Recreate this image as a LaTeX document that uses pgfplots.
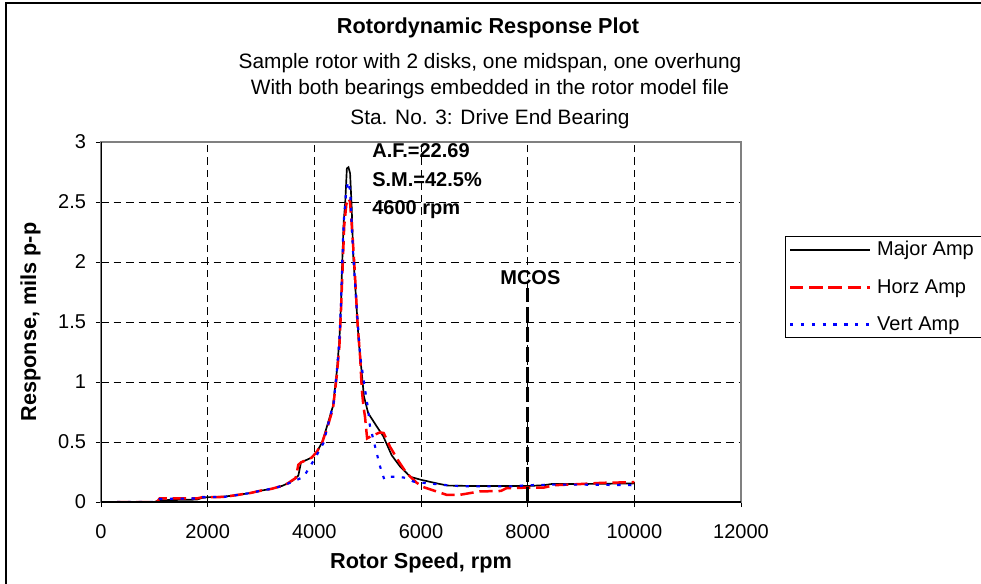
\documentclass[border=0pt]{standalone}
\usepackage{fontspec}
\setmainfont{Liberation Sans}
\usepackage{pgfplots}
\pgfplotsset{compat=1.18}

\begin{document}
\begin{tikzpicture}
% page: 981 x 584 px at 0.6pt per px, origin top left
\useasboundingbox (0,0) rectangle (588.6pt,-350.4pt);
\draw[black, line width=0.9pt] (3.6pt,-1.8pt) rectangle (700pt,-400pt);

\node[font=\fontsize{13}{15}\bfseries] at (292.8pt,-16.8pt) {Rotordynamic Response Plot};
\node[font=\fontsize{12.5}{15}\selectfont] at (294pt,-37.8pt) {Sample rotor with 2 disks, one midspan, one overhung};
\node[font=\fontsize{12.5}{15}\selectfont] at (294pt,-53.4pt) {With both bearings embedded in the rotor model file};
\node[font=\fontsize{12.5}{15}\selectfont] at (294pt,-71.4pt) {Sta. No. 3: Drive End Bearing};

\begin{axis}[
  scale only axis,
  width=384pt, height=216pt,
  at={(60.6pt,-301.2pt)}, anchor=south west,
  xmin=0, xmax=12000, ymin=0, ymax=3,
  xtick={0,2000,...,12000},
  ytick={0,0.5,...,3},
  scaled x ticks=false,
  /pgf/number format/set thousands separator={},
  /pgf/number format/assume math mode=true,
  tick pos=left,
  tick align=outside,
  major tick length=3pt,
  tick style={black, line width=0.6pt},
  ticklabel style={font=\fontsize{12}{14}\selectfont},
  xticklabel style={yshift=-7pt},
  yticklabel style={xshift=-2.5pt},
  grid=major,
  grid style={black, line width=0.5pt, dash pattern=on 4.5pt off 3pt},
  axis line style={draw=gray, line width=1.2pt},
  xlabel={Rotor Speed, rpm},
  ylabel={Response, mils p-p},
  every axis x label/.style={at={(axis description cs:0.5,-0.169)}, anchor=center, font=\fontsize{13}{15}\bfseries},
  every axis y label/.style={at={(axis description cs:-0.11,0.5)}, anchor=center, rotate=90, font=\fontsize{13}{15}\bfseries},
  legend style={at={(1.06875,0.7389)}, anchor=north west, draw=black, line width=0.6pt,
    font=\fontsize{12}{14}\selectfont, inner xsep=2pt, inner ysep=1pt, row sep=8.5pt,
    /tikz/every odd column/.append style={column sep=1.5pt}},
  legend cell align=left,
  legend image code/.code={\draw[#1] (0pt,0pt) -- (48pt,0pt);},
]
% Major Amp
\addplot[black, line width=1pt] coordinates {
(300,0) (1000,0) (1100,0.015) (1800,0.02) (1900,0.035) (2000,0.04) (2300,0.045)
(2500,0.055) (2800,0.075) (3000,0.095) (3200,0.11) (3400,0.135) (3500,0.155)
(3600,0.18) (3700,0.22) (3750,0.33) (3850,0.35) (3950,0.37) (4050,0.42)
(4150,0.5) (4250,0.65) (4350,0.8) (4420,1.08) (4470,1.35) (4500,1.65)
(4520,1.96) (4550,2.33) (4580,2.5) (4610,2.78) (4640,2.79) (4670,2.74)
(4700,2.46) (4730,2.05) (4780,1.71) (4830,1.35) (4890,1.07) (4930,0.88)
(5010,0.74) (5170,0.63) (5290,0.55) (5450,0.39) (5600,0.30) (5800,0.21)
(6000,0.185) (6300,0.155) (6500,0.137) (7000,0.133) (8000,0.133) (8300,0.14)
(8450,0.15) (9000,0.15) (10000,0.155)};
\addlegendentry{Major Amp\rule{14pt}{0pt}}
% Horz Amp
\addplot[red, line width=1.5pt, dash pattern=on 8pt off 3.5pt] coordinates {
(300,0) (1050,0) (1100,0.03) (1800,0.03) (1900,0.04) (2300,0.042) (2500,0.055)
(2800,0.075) (3000,0.095) (3200,0.11) (3400,0.135) (3500,0.155) (3650,0.2)
(3700,0.31) (3750,0.33) (3850,0.35) (3950,0.37) (4050,0.42) (4150,0.5)
(4250,0.63) (4350,0.78) (4420,1.05) (4470,1.3) (4500,1.6) (4530,1.95)
(4560,2.3) (4600,2.48) (4640,2.53) (4670,2.5) (4720,2.19) (4760,1.91)
(4810,1.49) (4860,1.2) (4890,0.94) (4920,0.80) (4950,0.71) (4990,0.53)
(5070,0.55) (5230,0.58) (5300,0.575) (5420,0.46) (5580,0.34) (5730,0.24)
(5920,0.16) (6040,0.125) (6480,0.06) (6730,0.06) (7100,0.088) (7500,0.092)
(7600,0.115) (8000,0.12) (8300,0.12) (8500,0.14) (9000,0.15) (9400,0.16)
(10000,0.165)};
\addlegendentry{Horz Amp}
% Vert Amp
\addplot[blue, line width=1.3pt, dash pattern=on 2pt off 4.5pt] coordinates {
(300,0) (1050,0) (1100,0.025) (1800,0.03) (1900,0.04) (2300,0.042) (2500,0.055)
(2800,0.075) (3000,0.095) (3200,0.11) (3400,0.135) (3600,0.17) (3800,0.21)
(3980,0.34) (4170,0.49) (4300,0.72) (4360,0.82) (4420,1.08) (4470,1.35)
(4500,1.65) (4520,1.96) (4550,2.33) (4590,2.55) (4630,2.67) (4670,2.6)
(4730,2.05) (4800,1.58) (4860,1.21) (4970,0.88) (5010,0.77) (5040,0.64)
(5140,0.46) (5230,0.30) (5310,0.19) (5400,0.21) (5480,0.21) (5580,0.21)
(5730,0.2) (5860,0.17) (6040,0.16) (6600,0.135) (7000,0.13) (7700,0.13)
(8000,0.14) (8500,0.145) (9000,0.145) (10000,0.14)};
\addlegendentry{Vert Amp}
% MCOS marker line
\addplot[black, line width=1.8pt, dash pattern=on 9pt off 3pt, forget plot] coordinates {(8000,0) (8000,1.78)};
\node[font=\fontsize{12}{14}\bfseries] at (axis cs:8050,1.87) {MCOS};
\node[font=\fontsize{12}{14}\bfseries, anchor=west, inner sep=0pt] at (axis cs:5081,2.93) {A.F.=22.69};
\node[font=\fontsize{12}{14}\bfseries, anchor=west, inner sep=0pt] at (axis cs:5081,2.69) {S.M.=42.5\%};
\node[font=\fontsize{12}{14}\bfseries, anchor=west, inner sep=0pt] at (axis cs:5081,2.44) {4600 rpm};
\draw[black, line width=0.9pt] (rel axis cs:0,1) -- (rel axis cs:0,0) -- (rel axis cs:1,0);
\end{axis}
\end{tikzpicture}
\end{document}
